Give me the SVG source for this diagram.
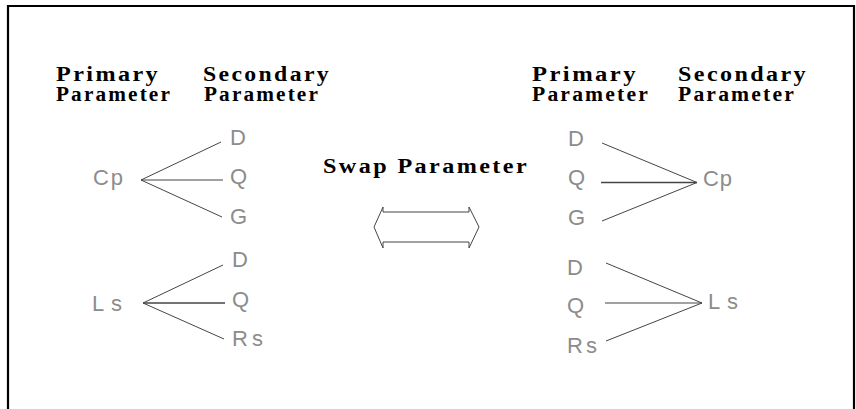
<svg xmlns="http://www.w3.org/2000/svg" width="856" height="409" viewBox="0 0 856 409">
<style>
.hd{font-family:"Liberation Serif","Times New Roman",serif;font-weight:bold;font-size:20px;letter-spacing:2px;fill:#000}
.lb{font-family:"Liberation Sans",Arial,sans-serif;font-size:22px;fill:#8c8c8c}
.ln{stroke:#454545;stroke-width:1;fill:none}
.thk{stroke-width:1.6}
</style>
<rect width="856" height="409" fill="#fff"/>
<path d="M8,409 V6 H854 V409" fill="none" stroke="#000" stroke-width="2.2"/>
<g id="headers-left">
<text class="hd" x="56" y="81" textLength="104" lengthAdjust="spacingAndGlyphs">Primary</text>
<text class="hd" x="56" y="101" textLength="116" lengthAdjust="spacingAndGlyphs">Parameter</text>
<text class="hd" x="203" y="81" textLength="128" lengthAdjust="spacingAndGlyphs">Secondary</text>
<text class="hd" x="204" y="101" textLength="116" lengthAdjust="spacingAndGlyphs">Parameter</text>
</g>
<g id="headers-right">
<text class="hd" x="532" y="81" textLength="106" lengthAdjust="spacingAndGlyphs">Primary</text>
<text class="hd" x="532" y="101" textLength="118" lengthAdjust="spacingAndGlyphs">Parameter</text>
<text class="hd" x="678" y="81" textLength="130" lengthAdjust="spacingAndGlyphs">Secondary</text>
<text class="hd" x="678" y="101" textLength="118" lengthAdjust="spacingAndGlyphs">Parameter</text>
</g>
<g id="swap">
<text class="hd" x="323" y="173" textLength="206" lengthAdjust="spacingAndGlyphs">Swap Parameter</text>
<polygon class="ln" points="374,227 383,207 383,212 469,212 469,207 479,227 469,248 469,242 383,242 383,248"/>
</g>
<g id="left-cp">
<text class="lb" x="93" y="185" textLength="30" lengthAdjust="spacing">Cp</text>
<text class="lb" x="230" y="145">D</text>
<text class="lb" x="230" y="184">Q</text>
<text class="lb" x="230" y="224">G</text>
</g>
<g id="left-ls">
<text class="lb" x="92" y="311" textLength="30" lengthAdjust="spacing">Ls</text>
<text class="lb" x="232" y="267">D</text>
<text class="lb" x="232" y="307">Q</text>
<text class="lb" x="232" y="346" textLength="31" lengthAdjust="spacing">Rs</text>
</g>
<g id="right-cp">
<text class="lb" x="568" y="146">D</text>
<text class="lb" x="568" y="185">Q</text>
<text class="lb" x="568" y="225">G</text>
<text class="lb" x="703" y="186" textLength="29" lengthAdjust="spacing">Cp</text>
</g>
<g id="right-ls">
<text class="lb" x="567" y="275">D</text>
<text class="lb" x="567" y="313">Q</text>
<text class="lb" x="567" y="353" textLength="30" lengthAdjust="spacing">Rs</text>
<text class="lb" x="708" y="309" textLength="30" lengthAdjust="spacing">Ls</text>
</g>
<g id="connectors">
<line class="ln" x1="141" y1="180" x2="221" y2="142"/>
<line class="ln" x1="141" y1="180" x2="223" y2="180"/>
<line class="ln" x1="141" y1="180" x2="222" y2="217"/>
<line class="ln" x1="143" y1="303" x2="223" y2="265"/>
<line class="ln thk" x1="143" y1="303" x2="225" y2="303"/>
<line class="ln" x1="143" y1="303" x2="224" y2="339"/>
<line class="ln" x1="602" y1="143" x2="697" y2="182.5"/>
<line class="ln thk" x1="601" y1="182.5" x2="697" y2="182.5"/>
<line class="ln" x1="602" y1="221" x2="697" y2="182.5"/>
<line class="ln" x1="606" y1="263" x2="702" y2="303"/>
<line class="ln" x1="605" y1="303" x2="702" y2="303"/>
<line class="ln" x1="606" y1="341" x2="702" y2="303"/>
</g>
</svg>
